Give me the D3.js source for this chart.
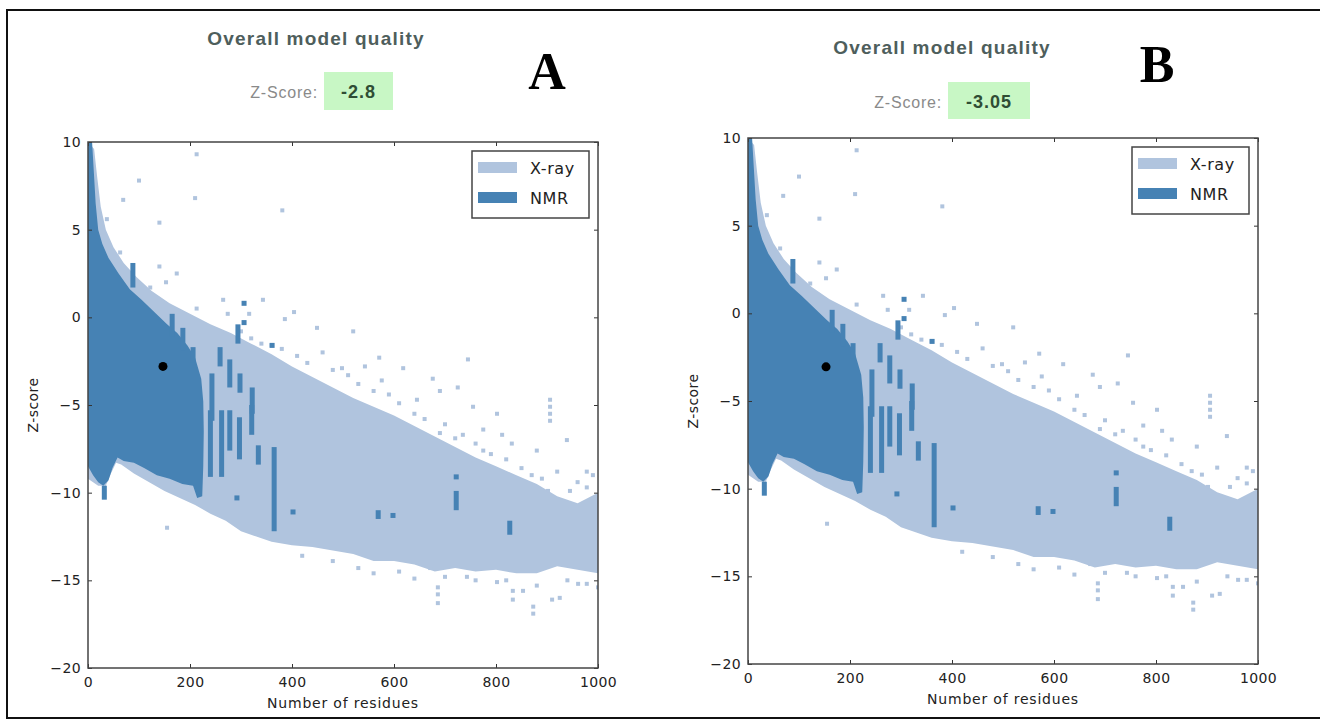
<!DOCTYPE html>
<html>
<head>
<meta charset="utf-8">
<script src="https://cdn.jsdelivr.net/npm/d3@7"></script>
<style>
  body { margin: 0; background: #fff; }
  svg { display: block; }
  text { font-family: "DejaVu Sans", sans-serif; }
</style>
</head>
<body>
<svg id="fig" width="1320" height="722"></svg>
<script>
const panelLetters = ['A', 'B'];
const zScoreLabels = ['-2.8', '-3.05'];
const modelResidues = [147, 153];
const modelZ = [-2.8, -3.05];
const xTicks = [0, 200, 400, 600, 800, 1000];
const yTicks = [10, 5, 0, -5, -10, -15, -20];
const legendNames = ['X-ray', 'NMR'];

// outline of the dense X-ray cloud, [residues, z-score]
const xrayOutline = [
  [0, 10], [12, 9.6], [18, 8], [25, 6.3], [35, 5], [50, 4], [70, 3.1], [95, 2.3],
  [125, 1.5], [160, 0.8], [200, 0.2], [240, -0.4], [280, -0.9], [320, -1.5],
  [360, -2.1], [400, -2.8], [440, -3.4], [480, -4.0], [520, -4.6], [560, -5.1],
  [600, -5.6], [640, -6.2], [680, -6.8], [720, -7.4], [760, -8.0], [800, -8.5],
  [840, -9.0], [880, -9.5], [920, -10.2], [960, -10.6], [1000, -10.0],
  [1000, -14.6], [960, -14.4], [920, -14.2], [880, -14.6], [840, -14.6], [800, -14.4],
  [760, -14.5], [720, -14.3], [680, -14.5], [640, -14.1], [600, -13.9], [560, -13.9],
  [520, -13.5], [480, -13.3], [440, -13.1], [400, -13.0], [360, -12.8], [330, -12.5],
  [300, -12.2], [270, -11.6], [240, -11.2], [210, -10.7], [180, -10.3], [150, -9.9],
  [120, -9.4], [90, -8.9], [65, -8.4], [55, -8.3], [45, -8.9], [35, -9.6], [20, -9.6], [0, -9.2]
];

// single X-ray structures outside the dense cloud
const xrayDots = [
  [213, 9.3], [100, 7.8], [69, 6.7], [210, 6.8], [381, 6.1], [140, 5.4], [37, 5.6],
  [63, 3.7], [140, 2.9], [174, 2.5], [265, 1.0], [343, 1.0], [404, 0.3], [449, -0.6],
  [213, 0.5], [274, 0.2], [316, 0.2], [386, -0.1], [153, 2.0], [122, 1.7],
  [520, -0.8], [571, -2.3], [618, -2.9], [745, -2.4], [543, -2.8], [498, -2.9],
  [676, -3.5], [576, -3.6], [690, -4.2], [725, -4.0], [645, -4.7], [906, -4.7],
  [906, -5.1], [906, -5.5], [906, -5.9], [802, -5.5], [755, -5.1], [939, -7.0],
  [978, -8.8], [920, -8.8], [880, -7.6], [831, -7.2], [775, -6.4], [690, -6.6],
  [735, -6.7], [812, -6.7], [775, -7.6], [155, -12.0],
  [686, -15.4], [686, -15.8], [686, -16.3], [743, -14.8], [802, -15.1], [833, -15.6],
  [833, -16.1], [873, -16.5], [873, -16.9], [853, -15.6], [910, -16.1], [925, -16.0],
  [978, -15.2], [961, -15.2], [671, -14.3],
  [300, -0.8], [320, -1.2], [340, -1.5], [360, -1.6], [380, -1.8], [410, -2.2],
  [430, -2.6], [460, -2.0], [480, -3.0], [510, -3.3], [530, -3.8], [560, -4.2],
  [590, -4.4], [610, -4.9], [640, -5.5], [660, -5.8], [700, -6.1], [720, -6.9],
  [760, -7.2], [790, -7.8], [820, -8.1], [850, -8.6], [870, -9.0], [890, -9.2],
  [960, -9.4], [990, -9.0], [945, -9.9], [902, -9.9], [978, -9.7],
  [420, -13.6], [480, -13.9], [530, -14.3], [560, -14.6], [610, -14.5], [640, -14.9],
  [700, -14.8], [760, -15.0], [820, -15.0], [880, -15.3], [940, -15.0], [1000, -15.4]
];

// outline of the dense NMR cloud
const nmrOutline = [
  [0, 10], [8, 10], [11, 8.5], [15, 6.5], [20, 5], [28, 4.2], [40, 3.4], [60, 2.5],
  [82, 1.6], [105, 1.0], [130, 0.3], [155, -0.4], [175, -0.9], [195, -1.6],
  [210, -2.3], [222, -3.5], [226, -4.8], [227, -6.5], [226, -8.5], [224, -10.2],
  [214, -10.3], [206, -9.6], [185, -9.5], [160, -9.2], [135, -9.0], [110, -8.6],
  [90, -8.3], [70, -8.2], [58, -8.0], [48, -8.6], [40, -9.3], [30, -9.6],
  [20, -9.4], [10, -9.0], [0, -8.5]
];

// NMR ensembles: [residues, top z, bottom z]
const nmrStreaks = [
  [88, 3.1, 1.7], [165, 0.2, -1.1], [186, -0.6, -1.9], [206, -1.7, -2.6],
  [243, -3.2, -5.9], [240, -5.3, -9.1], [259, -1.7, -2.8], [262, -5.3, -9.1],
  [278, -2.4, -4.0], [278, -5.3, -7.6], [294, -0.4, -1.5], [298, -3.2, -4.3],
  [297, -5.7, -8.1], [322, -4.0, -5.5], [321, -5.0, -6.7], [334, -7.3, -8.4],
  [365, -7.4, -12.2], [569, -11.0, -11.5], [722, -9.9, -11.0], [827, -11.6, -12.4],
  [32, -9.6, -10.4]
];
const nmrDots = [
  [361, -1.6], [306, 0.8], [306, -0.3], [292, -10.3], [402, -11.1], [598, -11.3], [722, -9.1]
];

const XRAY = '#b0c4de';
const NMR = '#4682b4';

main();

function main () {
  const svg = d3.select('svg#fig');

  svg.append('rect')
    .attr('x', 7).attr('y', 10)
    .attr('width', 1330).attr('height', 708)
    .attr('fill', 'none').attr('stroke', '#111').attr('stroke-width', 2);

  const layout = [
    { left: 88, top: 142, titleX: 316, titleY: 45, zY: 98, boxX: 324, boxY: 72, boxW: 69, boxH: 38, letterX: 547, letterY: 89 },
    { left: 748, top: 138, titleX: 942, titleY: 54, zY: 108, boxX: 948, boxY: 82, boxW: 82, boxH: 37, letterX: 1157, letterY: 82 }
  ];
  layout.forEach((p, i) => draw(svg, p, i));
}

function draw (svg, p, idx) {
  const w = 510;
  const h = 526;
  const x = d3.scaleLinear().domain([0, 1000]).range([p.left, p.left + w]);
  const y = d3.scaleLinear().domain([-20, 10]).range([p.top + h, p.top]);

  // header
  svg.append('text').text('Overall model quality').attr('x', p.titleX).attr('y', p.titleY)
    .attr('text-anchor', 'middle').attr('fill', '#4e5e5c')
    .style('font-family', '"Liberation Sans", Arial, sans-serif')
    .style('font-size', '19px').style('font-weight', 'bold').style('letter-spacing', '1.2px');
  svg.append('rect').attr('x', p.boxX).attr('y', p.boxY)
    .attr('width', p.boxW).attr('height', p.boxH).attr('fill', '#c8f7c5');
  svg.append('text').text('Z-Score:').attr('x', p.boxX - 6).attr('y', p.zY)
    .attr('text-anchor', 'end').attr('fill', '#8a8a8a')
    .style('font-family', '"Liberation Sans", Arial, sans-serif')
    .style('font-size', '16px').style('letter-spacing', '0.8px');
  svg.append('text').text(zScoreLabels[idx]).attr('x', p.boxX + p.boxW / 2).attr('y', p.zY)
    .attr('text-anchor', 'middle').attr('fill', '#2f4d34')
    .style('font-family', '"Liberation Sans", Arial, sans-serif')
    .style('font-size', '18px').style('font-weight', 'bold').style('letter-spacing', '1px');
  svg.append('text').text(panelLetters[idx]).attr('x', p.letterX).attr('y', p.letterY)
    .attr('text-anchor', 'middle').attr('fill', '#000')
    .style('font-family', '"Liberation Serif", "Times New Roman", serif')
    .style('font-size', '52px').style('font-weight', 'bold');

  // data
  const clipId = 'clip' + idx;
  svg.append('clipPath').attr('id', clipId).append('rect')
    .attr('x', p.left).attr('y', p.top).attr('width', w).attr('height', h);
  const plot = svg.append('g').attr('clip-path', `url(#${clipId})`);
  const outline = d3.line().x(d => x(d[0])).y(d => y(d[1])).curve(d3.curveLinearClosed);

  plot.append('path').attr('d', outline(xrayOutline)).attr('fill', XRAY);
  plot.selectAll('rect.xray').data(xrayDots).join('rect').attr('class', 'xray')
    .attr('x', d => x(d[0]) - 2).attr('y', d => y(d[1]) - 2)
    .attr('width', 4).attr('height', 4).attr('fill', XRAY);

  plot.append('path').attr('d', outline(nmrOutline)).attr('fill', NMR);
  plot.selectAll('rect.streak').data(nmrStreaks).join('rect').attr('class', 'streak')
    .attr('x', d => x(d[0]) - 2.5).attr('y', d => y(d[1]))
    .attr('width', 5).attr('height', d => y(d[2]) - y(d[1])).attr('fill', NMR);
  plot.selectAll('rect.nmr').data(nmrDots).join('rect').attr('class', 'nmr')
    .attr('x', d => x(d[0]) - 2.5).attr('y', d => y(d[1]) - 2.5)
    .attr('width', 5).attr('height', 5).attr('fill', NMR);

  plot.append('circle').attr('cx', x(modelResidues[idx])).attr('cy', y(modelZ[idx]))
    .attr('r', 4.5).attr('fill', '#000');

  // axes, ticks inside like matplotlib classic
  const styleAxis = g => {
    g.select('.domain').remove();
    g.selectAll('.tick line').attr('stroke', '#333');
    g.selectAll('.tick text').attr('fill', '#222')
      .style('font-family', '"DejaVu Sans", sans-serif').style('font-size', '14px')
      .style('letter-spacing', '0.4px');
  };
  const fmt = d3.format('d');
  svg.append('g').attr('transform', `translate(0,${p.top + h})`)
    .call(d3.axisBottom(x).tickValues(xTicks).tickFormat(fmt).tickSize(-4).tickPadding(9)).call(styleAxis);
  svg.append('g').attr('transform', `translate(0,${p.top})`)
    .call(d3.axisTop(x).tickValues(xTicks).tickSize(-4).tickFormat('')).call(styleAxis);
  svg.append('g').attr('transform', `translate(${p.left},0)`)
    .call(d3.axisLeft(y).tickValues(yTicks).tickFormat(fmt).tickSize(-4).tickPadding(7)).call(styleAxis);
  svg.append('g').attr('transform', `translate(${p.left + w},0)`)
    .call(d3.axisRight(y).tickValues(yTicks).tickSize(-4).tickFormat('')).call(styleAxis);

  svg.append('rect').attr('x', p.left).attr('y', p.top).attr('width', w).attr('height', h)
    .attr('fill', 'none').attr('stroke', '#444').attr('stroke-width', 1.5);

  svg.append('text').text('Number of residues')
    .attr('x', p.left + w / 2).attr('y', p.top + h + 40)
    .attr('text-anchor', 'middle').attr('fill', '#222')
    .style('font-size', '14px').style('letter-spacing', '0.8px');
  svg.append('text').text('Z-score')
    .attr('transform', `translate(${p.left - 50},${p.top + h / 2}) rotate(-90)`)
    .attr('text-anchor', 'middle').attr('fill', '#222')
    .style('font-size', '14px').style('letter-spacing', '0.4px');

  // legend
  const lx = p.left + w - 126;
  const ly = p.top + 9;
  svg.append('rect').attr('x', lx).attr('y', ly).attr('width', 117).attr('height', 67)
    .attr('fill', '#fff').attr('stroke', '#444').attr('stroke-width', 1.5);
  legendNames.forEach((name, i) => {
    svg.append('rect').attr('x', lx + 6).attr('y', ly + 11 + i * 30)
      .attr('width', 39).attr('height', 11).attr('fill', i === 0 ? XRAY : NMR);
    svg.append('text').text(name).attr('x', lx + 58).attr('y', ly + 23 + i * 30)
      .attr('fill', '#222').style('font-size', '16px').style('letter-spacing', '0.6px');
  });
}
</script>
</body>
</html>
